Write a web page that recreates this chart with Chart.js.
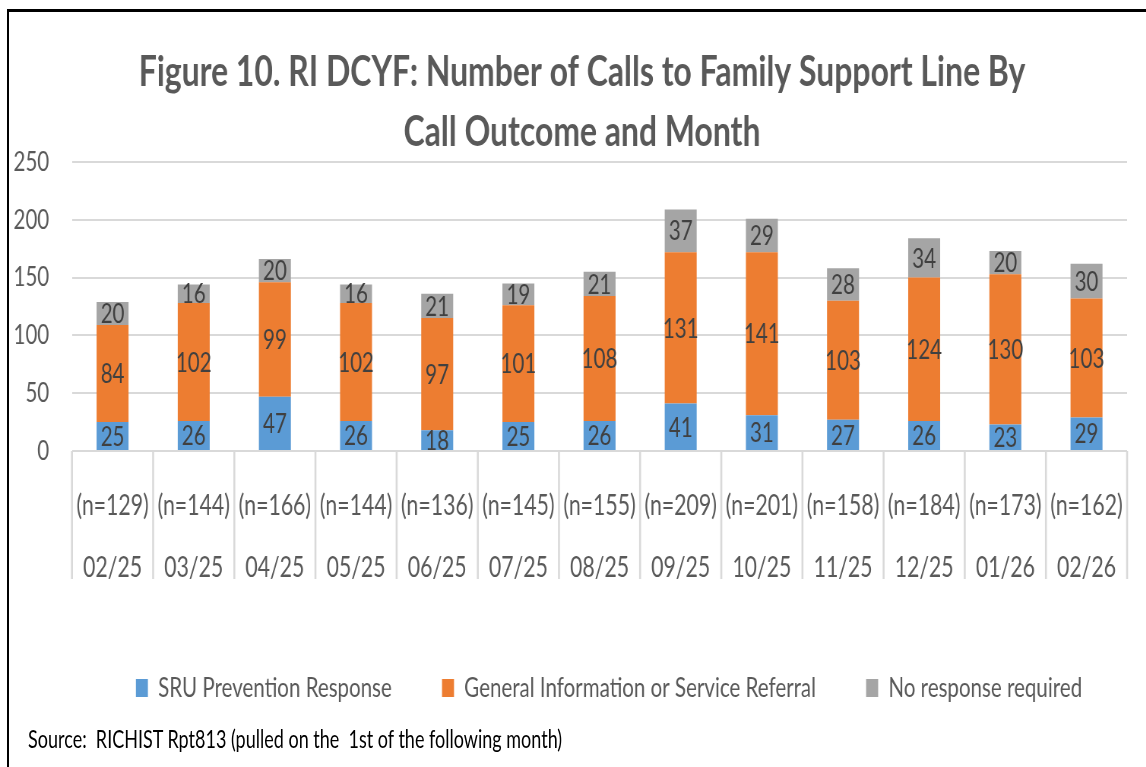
<!DOCTYPE html>
<html>
<head>
<meta charset="utf-8">
<script src="https://cdn.jsdelivr.net/npm/chart.js@4.4.1/dist/chart.umd.min.js"></script>
<style>
html,body{margin:0;padding:0;background:#fff;overflow:hidden;width:1146px;height:767px;}
#frame{position:absolute;left:7px;top:9px;width:1300px;height:900px;border-top:3px solid #000;border-left:2px solid #000;}
#wrap{position:absolute;left:0;top:0;width:1508px;height:767px;transform:scaleX(0.76);transform-origin:0 0;}
#c{position:absolute;left:0;top:0;}
#srcwrap{position:absolute;left:0;top:0;width:1600px;height:767px;transform:scaleX(0.72);transform-origin:0 0;}
#src{position:absolute;left:39px;top:726px;font-family:Lato,sans-serif;font-size:25px;line-height:25px;color:#000;white-space:pre;}
</style>
</head>
<body>
<div id="frame"></div>
<div id="wrap">
  <canvas id="c" width="1508" height="767"></canvas>
</div>
<div id="srcwrap"><div id="src">Source:  RICHIST Rpt813 (pulled on the  1st of the following month)</div></div>
<script>
// ---- data ----
const months = ['02/25','03/25','04/25','05/25','06/25','07/25','08/25','09/25','10/25','11/25','12/25','01/26','02/26'];
const nLabels = ['(n=129)','(n=144)','(n=166)','(n=144)','(n=136)','(n=145)','(n=155)','(n=209)','(n=201)','(n=158)','(n=184)','(n=173)','(n=162)'];
const sruPrevention = [25,26,47,26,18,25,26,41,31,27,26,23,29];
const generalInfo = [84,102,99,102,97,101,108,131,141,103,124,130,103];
const noResponse = [20,16,20,16,21,19,21,37,29,28,34,20,30];
const seriesNames = ['SRU Prevention Response','General Information or Service Referral','No response required'];
const yTicks = [0,50,100,150,200,250];
const titleLines = ['Figure 10. RI DCYF: Number of Calls to Family Support Line By','Call Outcome and Month'];

const FONT = 'Lato';

const dataLabels = {
  id:'dataLabels',
  afterDatasetsDraw(chart){
    const ctx = chart.ctx;
    ctx.save();
    ctx.font = '27px ' + FONT;
    ctx.fillStyle = '#404040';
    ctx.textAlign = 'center';
    ctx.textBaseline = 'middle';
    chart.data.datasets.forEach((ds,i)=>{
      const meta = chart.getDatasetMeta(i);
      meta.data.forEach((el,j)=>{
        const p = el.getProps(['x','y','base'], true);
        ctx.fillText(String(ds.data[j]), p.x, (p.y + p.base)/2 + 1);
      });
    });
    ctx.restore();
  }
};

const catDividers = {
  id:'catDividers',
  afterDraw(chart){
    const xs = chart.scales.x;
    const n = xs.ticks.length;
    const w = (xs.right - xs.left)/n;
    const ctx = chart.ctx;
    ctx.save();
    ctx.strokeStyle = '#d9d9d9';
    ctx.lineWidth = 2.6;
    for(let i=0;i<=n;i++){
      const x = xs.left + i*w;
      ctx.beginPath();
      ctx.moveTo(x, xs.top);
      ctx.lineTo(x, xs.top + 128);
      ctx.stroke();
    }
    ctx.restore();
  }
};

const boxShift = {
  id:'boxShift',
  afterLayout(chart){
    if(chart.titleBlock){ chart.titleBlock.left += 17.8; chart.titleBlock.right += 17.8; }
    if(chart.legend){ chart.legend.left += 53.3; chart.legend.right += 53.3; }
  }
};

function make(){
  new Chart(document.getElementById('c'), {
    type:'bar',
    data:{
      labels: months.map((m,i)=>[nLabels[i], m]),
      datasets:[
        {label:seriesNames[0], data:sruPrevention, backgroundColor:'#5B9BD5'},
        {label:seriesNames[1], data:generalInfo, backgroundColor:'#ED7D31'},
        {label:seriesNames[2], data:noResponse, backgroundColor:'#A5A5A5'}
      ]
    },
    options:{
      responsive:false,
      animation:false,
      devicePixelRatio:1,
      datasets:{bar:{barPercentage:0.394, categoryPercentage:1}},
      layout:{padding:{left:13,right:25,top:0,bottom:55.5}},
      plugins:{
        title:{display:true, text:titleLines, color:'#595959',
          font:{family:FONT, size:42, weight:'bold', lineHeight:60/42},
          padding:{top:42,bottom:0}},
        legend:{position:'bottom',
          labels:{boxWidth:15.8, boxHeight:18, padding:66, color:'#595959', font:{family:FONT,size:27}}},
        tooltip:{enabled:false}
      },
      scales:{
        x:{stacked:true,
          grid:{display:false}, border:{display:false},
          ticks:{color:'#595959', font:{family:FONT,size:28,lineHeight:62/28}, padding:16, maxRotation:0, autoSkip:false},
          afterFit(s){ s.height = 157.5; }
        },
        y:{stacked:true, min:0, max:250,
          afterBuildTicks(s){ s.ticks = yTicks.map(v=>({value:v})); },
          grid:{color:'#d9d9d9', lineWidth:2, drawTicks:false}, border:{display:false},
          ticks:{color:'#595959', font:{family:FONT,size:27}, padding:30},
          afterFit(s){ s.width = 81.7; }
        }
      }
    },
    plugins:[dataLabels, catDividers, boxShift]
  });
}

Promise.all([
  document.fonts.load('28px ' + FONT),
  document.fonts.load('bold 42px ' + FONT)
]).then(make, make);
</script>
</body>
</html>
